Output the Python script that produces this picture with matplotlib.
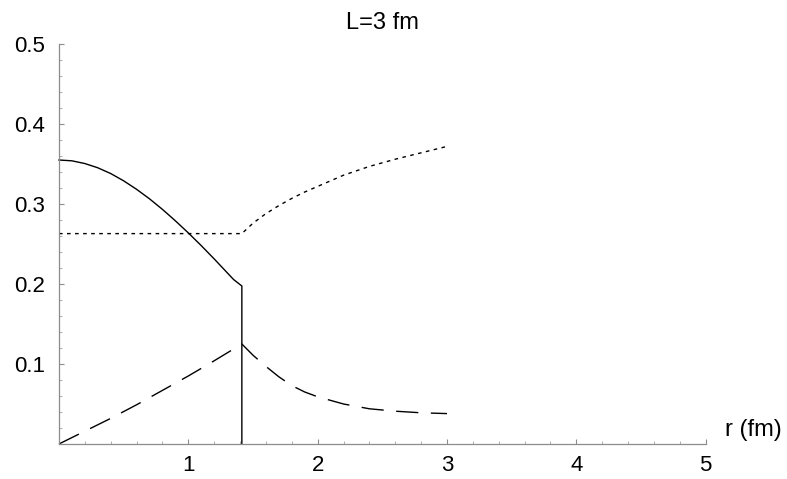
import matplotlib
matplotlib.use("Agg")
import matplotlib.pyplot as plt
from matplotlib.ticker import MultipleLocator, FixedLocator

plt.rcParams['font.family'] = ['Liberation Sans', 'DejaVu Sans']

# --- data ---
r_solid = [0.0, 0.1, 0.2, 0.3, 0.4, 0.5, 0.6, 0.7, 0.8, 0.9, 1.0, 1.1, 1.2, 1.3, 1.35, 1.414, 1.414]
y_solid = [0.355, 0.354, 0.3506, 0.3453, 0.3381, 0.3290, 0.3184, 0.3065, 0.2933, 0.2790,
           0.2639, 0.2480, 0.2314, 0.2142, 0.2056, 0.1975, 0.0]

r_dotted = [0.0, 1.414, 1.5, 1.6, 1.7, 1.8, 1.9, 2.0, 2.2, 2.4, 2.6, 2.8, 3.0]
y_dotted = [0.263, 0.263, 0.276, 0.288, 0.298, 0.307, 0.315, 0.322, 0.336, 0.347,
            0.356, 0.364, 0.372]

r_dashed = [0.0, 0.2, 0.4, 0.6, 0.8, 1.0, 1.2, 1.414, 1.5, 1.6, 1.7, 1.8, 1.9, 2.0,
            2.2, 2.4, 2.6, 2.8, 3.0]
y_dashed = [0.0, 0.016, 0.032, 0.049, 0.067, 0.085, 0.104, 0.125, 0.111, 0.097,
            0.084, 0.073, 0.065, 0.059, 0.050, 0.044, 0.041, 0.039, 0.038]

x_ticks = [1, 2, 3, 4, 5]
y_ticks = [0.1, 0.2, 0.3, 0.4, 0.5]
x_ticklabels = ["1", "2", "3", "4", "5"]
y_ticklabels = ["0.1", "0.2", "0.3", "0.4", "0.5"]
title = "L=3 fm"
xlabel = "r (fm)"

fig = plt.figure(figsize=(7.87, 4.79), dpi=100)
ax = fig.add_axes([0.0749, 0.0731, 0.8218, 0.8350])

ax.plot(r_solid, y_solid, color='black', lw=1.0, clip_on=False)
ax.plot(r_dotted, y_dotted, color='black', lw=1.0, dashes=(2.6, 3.2), clip_on=False)
ax.plot(r_dashed, y_dashed, color='black', lw=1.0, dashes=(16, 9), clip_on=False)

ax.set_xlim(0, 5)
ax.set_ylim(0, 0.5)
for s in ['top', 'right']:
    ax.spines[s].set_visible(False)
for s in ['left', 'bottom']:
    ax.spines[s].set_color('#8c8c8c')
    ax.spines[s].set_linewidth(0.9)

ax.xaxis.set_major_locator(FixedLocator(x_ticks))
ax.yaxis.set_major_locator(FixedLocator(y_ticks))
ax.set_xticklabels(x_ticklabels)
ax.set_yticklabels(y_ticklabels)
ax.xaxis.set_minor_locator(MultipleLocator(0.2))
ax.yaxis.set_minor_locator(MultipleLocator(0.02))
ax.tick_params(which='major', direction='in', length=3.5, width=0.8, color='#8c8c8c',
               labelsize=16, pad=8)
ax.tick_params(axis='y', which='major', pad=10)
ax.tick_params(which='minor', direction='in', length=2.0, width=0.6, color='#a0a0a0')

ax.set_title(title, fontsize=17, pad=11)
ax.text(1.03, 0.035, xlabel, transform=ax.transAxes, fontsize=17,
        ha='left', va='center', clip_on=False)

fig.savefig("out.png", dpi=100)
